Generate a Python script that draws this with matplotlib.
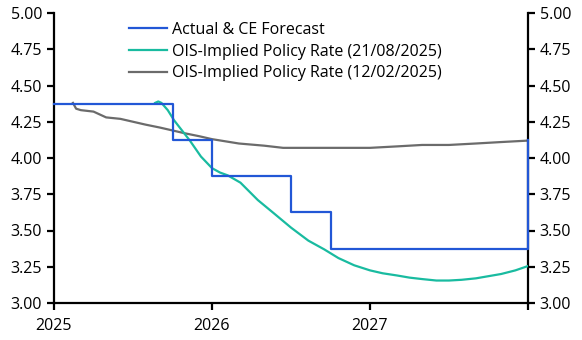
import matplotlib
matplotlib.use('Agg')
import matplotlib.pyplot as plt

plt.rcParams['font.family'] = ['Open Sans', 'DejaVu Sans']

# policy path (fractional years)
ce_x = [2025.0, 2025.75, 2026.0, 2026.5, 2026.75, 2028.0]
ce_y = [4.375, 4.125, 3.875, 3.625, 3.375, 4.125]

# OIS 21/08/2025
ois_aug_x = [2025.64, 2025.66, 2025.68, 2025.72, 2025.76, 2025.81, 2025.86, 2025.93,
             2026.0, 2026.05, 2026.1, 2026.18, 2026.29, 2026.39, 2026.5, 2026.61,
             2026.71, 2026.8, 2026.9, 2027.0, 2027.08, 2027.17, 2027.25, 2027.33,
             2027.42, 2027.5, 2027.58, 2027.67, 2027.75, 2027.83, 2027.92, 2028.0]
ois_aug_y = [4.38, 4.39, 4.38, 4.33, 4.26, 4.19, 4.12, 4.01,
             3.93, 3.90, 3.88, 3.83, 3.71, 3.62, 3.52, 3.43,
             3.37, 3.31, 3.26, 3.225, 3.205, 3.19, 3.175, 3.165,
             3.155, 3.155, 3.16, 3.17, 3.185, 3.20, 3.225, 3.255]

# OIS 12/02/2025
ois_feb_x = [2025.12, 2025.14, 2025.17, 2025.25, 2025.33, 2025.42, 2025.5, 2025.58,
             2025.67, 2025.75, 2025.83, 2025.92, 2026.0, 2026.17, 2026.33, 2026.45,
             2026.67, 2026.83, 2027.0, 2027.17, 2027.33, 2027.5, 2027.67, 2027.83, 2028.0]
ois_feb_y = [4.38, 4.34, 4.33, 4.32, 4.28, 4.27, 4.25, 4.23,
             4.21, 4.19, 4.17, 4.15, 4.13, 4.10, 4.085, 4.07,
             4.07, 4.07, 4.07, 4.08, 4.09, 4.09, 4.10, 4.11, 4.12]

x_ticks = [2025, 2026, 2027, 2028]
x_labels = ['2025', '2026', '2027', '']
y_ticks = [3.0, 3.25, 3.5, 3.75, 4.0, 4.25, 4.5, 4.75, 5.0]

fig = plt.figure(figsize=(5.82, 3.40), dpi=100)
ax = fig.add_axes([54 / 582, 1 - 303 / 340, 474 / 582, 290 / 340])

ax.plot(ce_x, ce_y, drawstyle='steps-post', color='#2257d6', lw=1.6,
        label='Actual & CE Forecast', clip_on=False, zorder=4)
ax.plot(ois_aug_x, ois_aug_y, color='#19bba0', lw=1.6,
        label='OIS-Implied Policy Rate (21/08/2025)', zorder=3)
ax.plot(ois_feb_x, ois_feb_y, color='#6b6b6b', lw=1.6,
        label='OIS-Implied Policy Rate (12/02/2025)', zorder=2)

ax.set_xlim(2025, 2028)
ax.set_ylim(3.0, 5.0)
ax.set_xticks(x_ticks)
ax.set_xticklabels(x_labels)
ax.set_yticks(y_ticks)
ax.set_yticklabels(['%.2f' % v for v in y_ticks])

ax.spines['top'].set_visible(False)
for s in ['left', 'right', 'bottom']:
    ax.spines[s].set_linewidth(1.6)
ax.tick_params(axis='both', direction='out', length=5, width=1.6, labelsize=11.5)
ax.tick_params(axis='y', right=True, labelright=True)
ax.tick_params(axis='x', pad=6)

ax.legend(loc='upper left', bbox_to_anchor=(0.14, 1.0), frameon=False,
          fontsize=11.5, handlelength=2.4, handletextpad=0.3,
          labelspacing=0.36, borderaxespad=0.15)

fig.savefig('out.png', dpi=100)
